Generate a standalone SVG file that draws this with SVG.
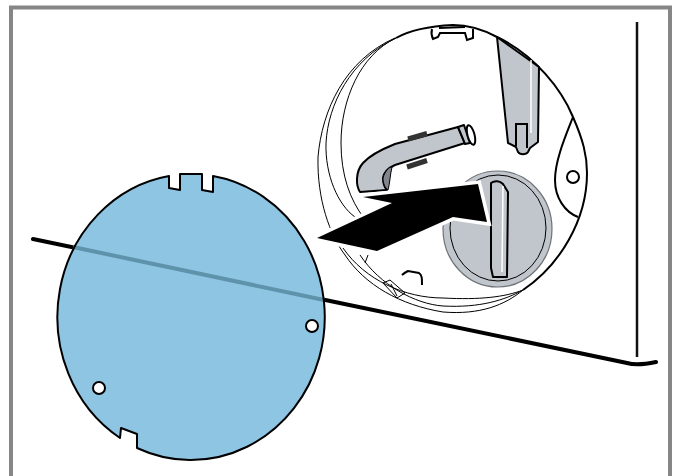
<svg xmlns="http://www.w3.org/2000/svg" width="676" height="476" viewBox="0 0 676 476">
<style>
.thin{fill:none;stroke:#000;stroke-width:1}
.med{fill:none;stroke:#000;stroke-width:2}
.gray{fill:#c1c5cc;stroke:#000;stroke-width:2;stroke-linejoin:round}
.wh{fill:#fff;stroke:#000;stroke-width:2}
.hi{fill:none;stroke:#fff;stroke-width:1.5}
</style>
<defs>
<path id="disc" d="M213 176A134 143 0 1 1 137 448V434L121 428L120 438A134 143 0 0 1 169 176V188L180 190V174H202V190L213 192Z"/>
</defs>
<rect x="0" y="0" width="676" height="476" fill="#fff"/>
<rect id="frame" x="11" y="7.5" width="659" height="480" fill="none" stroke="#868686" stroke-width="4"/>
<g id="appliance">
<path d="M33 239L627 363Q637 366 656 362" fill="none" stroke="#000" stroke-width="4" stroke-linecap="round"/>
<path d="M637 22V357" fill="none" stroke="#111" stroke-width="2.5"/>
</g>
<g id="opening">
<path class="thin" d="M395 38C345 60 322 110 318 157C317 200 330 235 345 255C365 285 400 305 443 312C480 315 505 305 523 290"/>
<path class="thin" d="M396 38C350 60 328 105 326 143C325 175 338 205 355 217"/>
<path class="thin" d="M396 38C360 55 341 100 341 143C341 175 350 200 364 218"/>
<path class="thin" d="M343 248C365 280 405 298 443 298C480 300 505 297 523 290"/>
<path class="thin" d="M360 255C380 285 415 304 443 306C480 308 505 300 523 290"/>
<path class="thin" d="M368 255L365 263"/>
<path class="med" d="M396 38C412 29 432 26 453 25C470 25 484 30 497 37C535 55 562 90 573 117C583 140 587 155 587 173C587 220 560 265 523 290"/>
<path class="wh" d="M432 29C431 33 432 37 433 39L438 37L440 33H465L467 40L473 38L473 29"/>
<path class="med" d="M439 28L465 27"/>
</g>
<g id="bottom-tab">
<path class="med" d="M402 275C404 273 406 272 408 271L419 273C422 275 422 278 422 285"/>
<path class="thin" d="M383 283L390 280L405 293L397 298Z"/>
<path class="thin" d="M391 284L397 296"/>
</g>
<g id="right-tab">
<path class="med" d="M573 117C566 135 555 160 555 180C555 198 565 212 578 217"/>
<circle class="wh" cx="573" cy="177" r="6"/>
</g>
<g id="arm">
<path class="gray" d="M497 37L508 143L516 147L518 152C520 155 526 155 528 152L530 148L538 142L539 67Z"/>
<path class="med" d="M516 146V124H527V148"/>
<path class="hi" d="M531 60V133"/>
</g>
<g id="tube">
<path class="gray" d="M360 192C356 186 355 172 363 163C370 155 380 150 395 144L458 127L465 143L395 165C388 168 384 172 383 178C383 183 385 188 387 190Z"/>
<path d="M383 178C385 171 389 167 392 167C390 175 390 183 388 190C385 188 383 183 383 178Z" fill="#82868c" stroke="#000" stroke-width="1"/>
<path class="gray" d="M458 127L464 125L470 143L465 144Z"/>
<ellipse class="wh" cx="471" cy="135" rx="3.5" ry="10" transform="rotate(-15 471 135)"/>
<path d="M408 139L427 133.5M407 167L427 160.5" stroke="#333" stroke-width="5" fill="none"/>
</g>
<g id="dial">
<ellipse cx="497.5" cy="229" rx="54.5" ry="58" fill="#c1c5cc" stroke="#6f7378" stroke-width="1.2"/>
<ellipse cx="498" cy="228" rx="48" ry="53" fill="#c1c5cc" stroke="#000" stroke-width="1"/>
<path class="gray" d="M491 183C495 180 500 181 503 184L508 192L507 277H493L491 268Z"/>
<path class="hi" d="M503 186L502 272"/>
</g>
<g id="arrow">
<path d="M317 238L377 251L453 217L487 222L478 184L363 197L392 203Z" fill="#000" stroke="#fff" stroke-width="7" stroke-linejoin="miter"/>
<path d="M317 238L377 251L453 217L487 222L478 184L363 197L392 203Z" fill="#000"/>
</g>
<g id="cover">
<use href="#disc" fill="#8dc5e2"/>
<path d="M73 247L324 300" stroke="#5f93ab" stroke-width="4" fill="none"/>
<use href="#disc" fill="none" stroke="#000" stroke-width="2" stroke-linejoin="round"/>
<circle class="wh" cx="312" cy="326" r="6"/>
<circle class="wh" cx="99" cy="388" r="6"/>
</g>
</svg>
